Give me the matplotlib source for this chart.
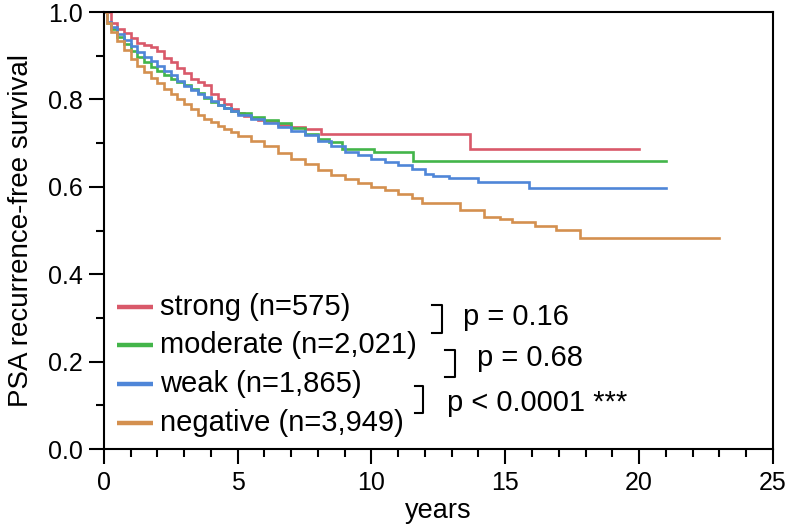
import matplotlib
matplotlib.use("Agg")
import matplotlib.pyplot as plt
from matplotlib.ticker import MultipleLocator

plt.rcParams['font.family'] = ['Liberation Sans', 'DejaVu Sans']

# Kaplan-Meier curves (years, survival), drawn as steps
strong_t = [0, 0.25, 0.5, 0.75, 1.0, 1.25, 1.5, 1.75, 2.0, 2.25, 2.5, 2.75, 3.0, 3.25, 3.5,
            3.75, 4.0, 4.25, 4.5, 4.75, 5.0, 5.25, 5.5, 5.75, 6.0, 6.5, 7.0, 7.5, 8.1, 13.7, 20.0]
strong_s = [1.0, 0.975, 0.962, 0.952, 0.94, 0.93, 0.925, 0.92, 0.91, 0.895, 0.885, 0.872,
            0.86, 0.848, 0.84, 0.833, 0.812, 0.802, 0.79, 0.778, 0.768, 0.762, 0.757, 0.753,
            0.75, 0.742, 0.737, 0.733, 0.72, 0.687, 0.687]

moderate_t = [0, 0.1, 0.25, 0.5, 0.75, 1.0, 1.25, 1.5, 1.75, 2.0, 2.25, 2.5, 2.75, 3.0, 3.25,
              3.5, 3.75, 4.0, 4.25, 4.5, 4.75, 5.0, 5.5, 6.0, 6.5, 7.0, 7.5, 8.0, 8.4, 8.9,
              10.1, 11.55, 21.0]
moderate_s = [1.0, 0.975, 0.962, 0.943, 0.928, 0.912, 0.898, 0.885, 0.874, 0.865, 0.855,
              0.848, 0.84, 0.833, 0.824, 0.814, 0.803, 0.795, 0.787, 0.78, 0.774, 0.768,
              0.76, 0.752, 0.746, 0.735, 0.722, 0.71, 0.703, 0.686, 0.679, 0.659, 0.659]

weak_t = [0, 0.1, 0.25, 0.5, 0.75, 1.0, 1.25, 1.5, 1.75, 2.0, 2.25, 2.5, 2.75, 3.0, 3.25, 3.5,
          3.75, 4.0, 4.25, 4.5, 4.75, 5.0, 5.5, 6.0, 6.5, 7.0, 7.5, 8.0, 8.5, 9.0, 9.5, 10.0,
          10.5, 11.0, 11.5, 12.0, 12.3, 12.9, 14.0, 15.9, 21.0]
weak_s = [1.0, 0.978, 0.967, 0.95, 0.937, 0.922, 0.908, 0.897, 0.888, 0.877, 0.866, 0.856,
          0.843, 0.832, 0.822, 0.813, 0.805, 0.797, 0.788, 0.78, 0.773, 0.765, 0.755, 0.746,
          0.737, 0.728, 0.718, 0.705, 0.693, 0.68, 0.672, 0.664, 0.657, 0.65, 0.64, 0.63,
          0.624, 0.62, 0.612, 0.598, 0.598]

negative_t = [0, 0.1, 0.25, 0.5, 0.75, 1.0, 1.25, 1.5, 1.75, 2.0, 2.25, 2.5, 2.75, 3.0, 3.25,
              3.5, 3.75, 4.0, 4.25, 4.5, 4.75, 5.0, 5.5, 6.0, 6.5, 7.0, 7.5, 8.0, 8.5, 9.0,
              9.5, 10.0, 10.5, 11.0, 11.5, 11.9, 13.3, 14.2, 14.8, 15.25, 16.1, 16.9, 17.8, 23.0]
negative_s = [1.0, 0.975, 0.955, 0.933, 0.913, 0.893, 0.876, 0.862, 0.85, 0.838, 0.825,
              0.812, 0.8, 0.79, 0.778, 0.765, 0.756, 0.748, 0.74, 0.733, 0.726, 0.717, 0.706,
              0.693, 0.677, 0.664, 0.652, 0.638, 0.627, 0.617, 0.608, 0.6, 0.592, 0.583,
              0.575, 0.563, 0.547, 0.531, 0.527, 0.519, 0.51, 0.501, 0.484, 0.484]

labels = ['strong (n=575)', 'moderate (n=2,021)', 'weak (n=1,865)', 'negative (n=3,949)']
colors = ['#d9596a', '#43b54a', '#4f86d8', '#d4904f']
p_texts = ['p = 0.16', 'p = 0.68', 'p < 0.0001 ***']

fig = plt.figure(figsize=(7.87, 5.27), dpi=100)
ax = fig.add_axes([0.132, 0.148, 0.850, 0.829])

curves = [(strong_t, strong_s), (moderate_t, moderate_s), (weak_t, weak_s), (negative_t, negative_s)]
for (t, s), c in zip(curves, colors):
    ax.plot(t, s, drawstyle='steps-post', color=c, lw=1.9, solid_joinstyle='miter')

ax.set_xlim(0, 25)
ax.set_ylim(0, 1.0)
ax.xaxis.set_major_locator(MultipleLocator(5))
ax.xaxis.set_minor_locator(MultipleLocator(1))
ax.yaxis.set_major_locator(MultipleLocator(0.2))
ax.yaxis.set_minor_locator(MultipleLocator(0.1))
ax.yaxis.set_major_formatter(plt.FuncFormatter(lambda v, p: f"{v:.1f}"))
ax.tick_params(which='major', length=11, width=1.5, labelsize=18, direction='out')
ax.tick_params(axis='x', which='major', pad=5)
ax.tick_params(axis='y', which='major', pad=4)
ax.tick_params(which='minor', length=5.5, width=1.5, direction='out')
for sp in ax.spines.values():
    sp.set_linewidth(1.5)
    sp.set_clip_on(False)

ax.set_xlabel('years', fontsize=19.5, labelpad=2)
ax.set_ylabel('PSA recurrence-free survival', fontsize=20, labelpad=10)

# legend drawn by hand
leg_y = [0.325, 0.238, 0.149, 0.059]
for yy, lab, c in zip(leg_y, labels, colors):
    ax.plot([0.49, 1.83], [yy, yy], color=c, lw=3.2, solid_capstyle='butt')
    ax.text(2.1, yy, lab, fontsize=21, va='center', ha='left')

# brackets and p values
brackets = [(12.26, 12.63, 0.265, 0.330), (12.74, 13.12, 0.165, 0.227), (11.62, 11.92, 0.082, 0.144)]
for x0, x1, y0, y1 in brackets:
    ax.plot([x0, x1, x1, x0], [y1, y1, y0, y0], color='black', lw=1.5)
p_pos = [(13.42, 0.302), (13.94, 0.208), (12.82, 0.105)]
for (px, py), txt in zip(p_pos, p_texts):
    ax.text(px, py, txt, fontsize=21, va='center', ha='left')

fig.savefig('out.png', dpi=100)
